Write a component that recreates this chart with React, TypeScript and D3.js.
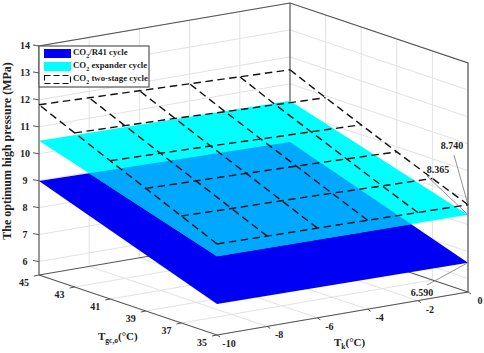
import React from "react";
import * as d3 from "d3";

const tkTicks = [-10, -8, -6, -4, -2, 0];
const tgcTicks = [35, 37, 39, 41, 43, 45];
const zTicks = [6, 7, 8, 9, 10, 11, 12, 13, 14];

// corner values, [tk, tgc, pressure]
const r41Corners = [[-10, 45, 8.99], [0, 45, 8.84], [0, 35, 6.59], [-10, 35, 6.65]];
const expanderCorners = [[-10, 45, 10.48], [0, 45, 10.37], [0, 35, 8.365], [-10, 35, 8.42]];

// two-stage surface, one row per tgc (35..45), one value per tk (-10..0)
const twoStage = [
  [8.88, 8.85, 8.83, 8.8, 8.77, 8.74],
  [9.47, 9.43, 9.4, 9.36, 9.31, 9.27],
  [10.05, 10.01, 9.97, 9.92, 9.87, 9.81],
  [10.63, 10.59, 10.54, 10.48, 10.43, 10.37],
  [11.22, 11.17, 11.12, 11.05, 10.99, 10.93],
  [11.82, 11.76, 11.7, 11.64, 11.58, 11.52],
];

const notes = [
  { label: "8.740", tk: 0, tgc: 35, z: 8.74, x: 452, y: 149, lx: 454, ly: 155 },
  { label: "8.365", tk: 0, tgc: 35, z: 8.365, x: 438, y: 173, lx: 427, ly: 176 },
  { label: "6.590", tk: 0, tgc: 35, z: 6.59, x: 422, y: 296, lx: 427, ly: 285 },
];

const ZMIN = 5.5;
const ZMAX = 14;

const xTk = d3.scaleLinear().domain([-10, 0]).range([217, 468]);
const yTk = d3.scaleLinear().domain([-10, 0]).range([335, 292]);
const xTgc = d3.scaleLinear().domain([35, 45]).range([0, -178]);
const yTgc = d3.scaleLinear().domain([35, 45]).range([0, -60]);
const yZ = d3.scaleLinear().domain([ZMIN, ZMAX]).range([0, -229]);

const project = (tk: number, tgc: number, z: number): [number, number] => [
  xTk(tk) + xTgc(tgc),
  yTk(tk) + yTgc(tgc) + yZ(z),
];

const line = d3.line();
const path3 = (pts: number[][]) => line(pts.map((p) => project(p[0], p[1], p[2])))!;
const poly = (pts: number[][]) => path3(pts) + "Z";

const FONT = "'Liberation Serif', serif";
const GRID = "#e2e2e2";
const EDGE = "#555555";
const DASH = "7.5 4.5";

const Sub = ({ children }: { children: string }) => (
  <tspan fontSize={7.5} dy={3}>{children}</tspan>
);

const App = () => {
  const tkMin = tkTicks[0];
  const tkMax = tkTicks[tkTicks.length - 1];
  const tgcMin = tgcTicks[0];
  const tgcMax = tgcTicks[tgcTicks.length - 1];

  const gridLines: number[][][] = [];
  zTicks.forEach((z) => {
    gridLines.push([[tkMin, tgcMax, z], [tkMax, tgcMax, z], [tkMax, tgcMin, z]]);
  });
  tkTicks.slice(1, -1).forEach((k) => {
    gridLines.push([[k, tgcMax, ZMIN], [k, tgcMax, ZMAX]]);
    gridLines.push([[k, tgcMax, ZMIN], [k, tgcMin, ZMIN]]);
  });
  tgcTicks.slice(0, -1).forEach((t) => {
    gridLines.push([[tkMax, t, ZMIN], [tkMax, t, ZMAX]]);
    gridLines.push([[tkMin, t, ZMIN], [tkMax, t, ZMIN]]);
  });

  const edges: number[][][] = [
    [[tkMin, tgcMax, ZMIN], [tkMin, tgcMax, ZMAX], [tkMax, tgcMax, ZMAX], [tkMax, tgcMin, ZMAX], [tkMax, tgcMin, ZMIN]],
    [[tkMax, tgcMax, ZMIN], [tkMax, tgcMax, ZMAX]],
    [[tkMin, tgcMax, ZMIN], [tkMax, tgcMax, ZMIN], [tkMax, tgcMin, ZMIN]],
    [[tkMin, tgcMax, ZMIN], [tkMin, tgcMin, ZMIN], [tkMax, tgcMin, ZMIN]],
  ];

  const rows = twoStage.map((vals, i) => vals.map((z, j) => [tkTicks[j], tgcTicks[i], z]));
  const cols = tkTicks.map((k, j) => twoStage.map((vals, i) => [k, tgcTicks[i], vals[j]]));

  const tickText = { fontFamily: FONT, fontWeight: 700, fontSize: 10, fill: "#222", textAnchor: "middle" as const };

  return (
    <svg width={484} height={353} style={{ position: "absolute", left: 0, top: 0, background: "#fff" }}>
      <defs>
        <clipPath id="expander-clip">
          <path d={poly(expanderCorners)} />
        </clipPath>
      </defs>

      {gridLines.map((g, i) => (
        <path key={i} d={path3(g)} fill="none" stroke={GRID} strokeWidth={1} />
      ))}
      {edges.map((g, i) => (
        <path key={i} d={path3(g)} fill="none" stroke={EDGE} strokeWidth={1.2} />
      ))}

      <path d={poly(r41Corners)} fill="#0000f5" />
      <path d={poly(expanderCorners)} fill="#00ffff" />
      <path d={poly(r41Corners)} fill="#00a8ff" clipPath="url(#expander-clip)" />

      {rows.concat(cols).map((g, i) => (
        <path key={i} d={path3(g)} fill="none" stroke="#111" strokeWidth={1.4} strokeDasharray={DASH} />
      ))}

      {zTicks.map((z) => {
        const [x, y] = project(tkMin, tgcMax, z);
        return (
          <g key={z}>
            <line x1={x - 6} y1={y - 1} x2={x} y2={y} stroke={EDGE} strokeWidth={1} />
            <text x={x - 14} y={y + 3} {...tickText}>{z}</text>
          </g>
        );
      })}
      {tgcTicks.map((t) => {
        const [x, y] = project(tkMin, t, ZMIN);
        return (
          <g key={t}>
            <line x1={x} y1={y} x2={x - 5} y2={y + 1} stroke={EDGE} strokeWidth={1} />
            <text x={x - 15} y={y + 11} {...tickText}>{t}</text>
          </g>
        );
      })}
      {tkTicks.map((k) => {
        const [x, y] = project(k, tgcMin, ZMIN);
        return (
          <g key={k}>
            <line x1={x} y1={y} x2={x + 3} y2={y + 2} stroke={EDGE} strokeWidth={1} />
            <text x={x + 12} y={y + 12} {...tickText}>{k}</text>
          </g>
        );
      })}

      {notes.map((n) => {
        const [px, py] = project(n.tk, n.tgc, n.z);
        return (
          <g key={n.label}>
            <line x1={n.lx} y1={n.ly} x2={px} y2={py} stroke="#777" strokeWidth={0.8} />
            <text x={n.x} y={n.y} {...tickText}>{n.label}</text>
          </g>
        );
      })}

      <text
        transform="translate(11,151) rotate(-90)"
        fontFamily={FONT}
        fontWeight={700}
        fontSize={12}
        fill="#222"
        textAnchor="middle"
      >
        The optimum high pressure (MPa)
      </text>
      <text x={98} y={340} fontFamily={FONT} fontWeight={700} fontSize={11} fill="#222">
        T<Sub>gc,o</Sub><tspan dy={-3}>(°C)</tspan>
      </text>
      <text x={334} y={346} fontFamily={FONT} fontWeight={700} fontSize={11} fill="#222">
        T<Sub>k</Sub><tspan dy={-3}>(°C)</tspan>
      </text>

      <g>
        <rect x={39} y={46} width={110} height={41} fill="#fff" stroke={EDGE} strokeWidth={1.2} />
        <rect x={44} y={49} width={27} height={9} fill="#0000f5" />
        <rect x={44} y={62} width={27} height={9} fill="#00ffff" />
        <rect x={44.5} y={75.5} width={26} height={8} fill="none" stroke="#111" strokeWidth={1.1} strokeDasharray="6 3" />
        {["/R41 cycle", " expander cycle", " two-stage cycle"].map((s, i) => (
          <text key={s} x={73} y={55 + i * 13} fontFamily={FONT} fontWeight={700} fontSize={8.8} fill="#222" xmlSpace="preserve">
            CO<tspan fontSize={6} dy={2.5}>2</tspan><tspan dy={-2.5}>{s}</tspan>
          </text>
        ))}
      </g>
    </svg>
  );
};

export default App;
